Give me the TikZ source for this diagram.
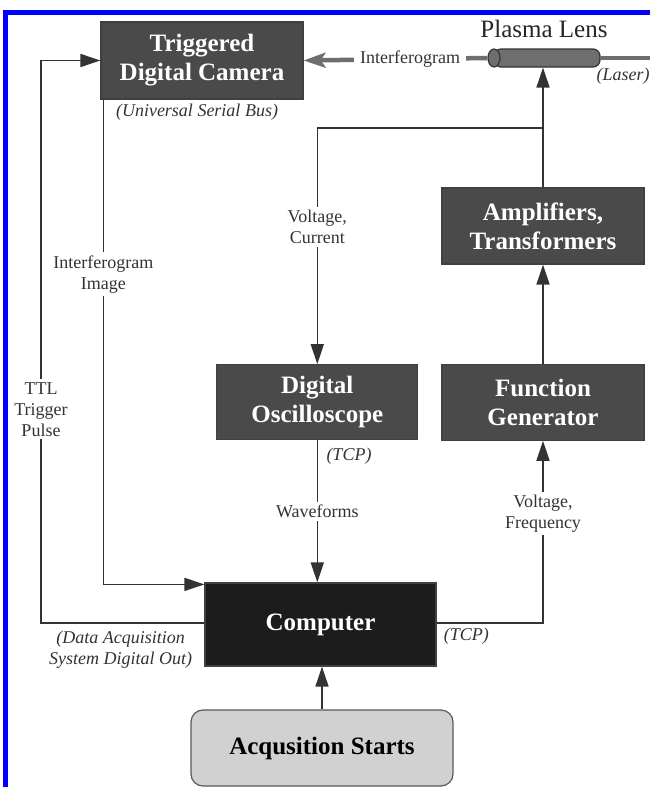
\documentclass[tikz,border=0pt]{standalone}
\usepackage{fontspec}
\setmainfont{Liberation Serif}
\usetikzlibrary{positioning, arrows.meta, shapes.geometric}
\definecolor{boxgray}{HTML}{4A4A4A}
\definecolor{compblack}{HTML}{1C1C1C}
\definecolor{linegray}{HTML}{333333}
\definecolor{beamgray}{HTML}{6E6E6E}
\begin{document}
\begin{tikzpicture}[x=1pt, y=-1pt,
        dev/.style = {draw=black!75, line width=1.2pt, fill=boxgray, text=white, font=\fontsize{25}{29}\selectfont\bfseries, align=center, minimum width=202pt, minimum height=76pt, inner sep=0pt},
        conn/.style = {draw=linegray, line width=1.6pt, -{Triangle[length=20pt, width=13pt]}},
        lbl/.style = {fill=white, text=linegray, font=\fontsize{18}{21}\selectfont, align=center, inner sep=3pt},
        note/.style = {text=linegray, font=\fontsize{18}{21}\selectfont\itshape, align=center, inner sep=1pt},
        beam/.style = {draw=beamgray, line width=4.5pt},
        tube/.style = {draw=black!80, line width=1.2pt, fill=beamgray, minimum height=18pt, inner sep=0pt}]
            \useasboundingbox (0,0) rectangle (650,787);
            \draw[blue, line width=5pt] (5.5,787) -- (5.5,12.5) -- (650,12.5);
            \node[dev, minimum height=77pt] (cam) at (202,60.5) {Triggered\\Digital Camera};
            \node[dev] (amp) at (543,226) {Amplifiers,\\Transformers};
            \node[dev] (fg) [below=99pt of amp] {Function\\Generator};
            \node[dev, minimum height=75pt, minimum width=201pt] (osc) [left=23pt of fg] {Digital\\Oscilloscope};
            \node[dev, fill=compblack, minimum width=231pt, minimum height=83pt] (comp) at (320.5,624.5) {Computer};
            \node[dev, fill=black!18, draw=black!65, text=black, rounded corners=12pt, minimum width=262pt] (acq) at (322,748) {Acqusition Starts};
            \node[tube, rounded corners=7pt, minimum width=106pt] (lens) at (547,58) {};
            \node[tube, ellipse, minimum width=12pt] (lenscap) at (494,58) {};
            \node[font=\fontsize{25}{29}\selectfont, text=black!85, inner sep=0pt, xshift=-3pt] (lenstitle) [above=10pt of lens] {Plasma Lens};
            \node[note] (laser) at (623,76) {(Laser)};
            \node[note, xshift=-5pt] (usb) [below=3pt of cam] {(Universal Serial Bus)};
            \node[note] (osctcp) [below right=7pt and 8pt of osc.south] {(TCP)};
            \node[note] (comptcp) [below right=2pt and 6pt of comp.east] {(TCP)};
            \node[note] (daq) [below left=5pt and 11pt of comp.west] {(Data Acquisition\\System Digital Out)};
            \coordinate (laserin) at (650,58);
            \coordinate (ttlx) at (41,0);
            \coordinate (vtap) at (amp.north |- 0,128);
            \draw[beam] (laserin) -- (lens.east);
            \draw[beam, -{Stealth[length=22pt, width=15pt, inset=5pt]}] (lenscap.west) -- node[lbl, pos=0.42, inner sep=6pt] {Interferogram} (cam.east);
            \draw[conn] (fg) -- (amp);
            \draw[conn] (amp.north) -- (amp.north |- lens.south);
            \draw[conn] (vtap) -| node[lbl, pos=0.71] {Voltage,\\Current} (osc.north);
            \draw[conn] (osc.south) -- node[lbl] {Waveforms} (osc.south |- comp.north);
            \draw[conn] (acq.north) -- (acq.north |- comp.south);
            \draw[conn] ([yshift=1.5pt]comp.east) -| node[lbl, pos=0.8] {Voltage,\\Frequency} (fg.south);
            \draw[conn] ([yshift=1.5pt]comp.west) -| node[lbl, pos=0.69] {TTL\\Trigger\\Pulse} (ttlx |- cam.west) -- (cam.west);
            \draw[conn] ([xshift=3pt]cam.south west) |- node[lbl, pos=0.18] {Interferogram\\Image} ([yshift=-2pt]comp.north west);
        \end{tikzpicture}
\end{document}
